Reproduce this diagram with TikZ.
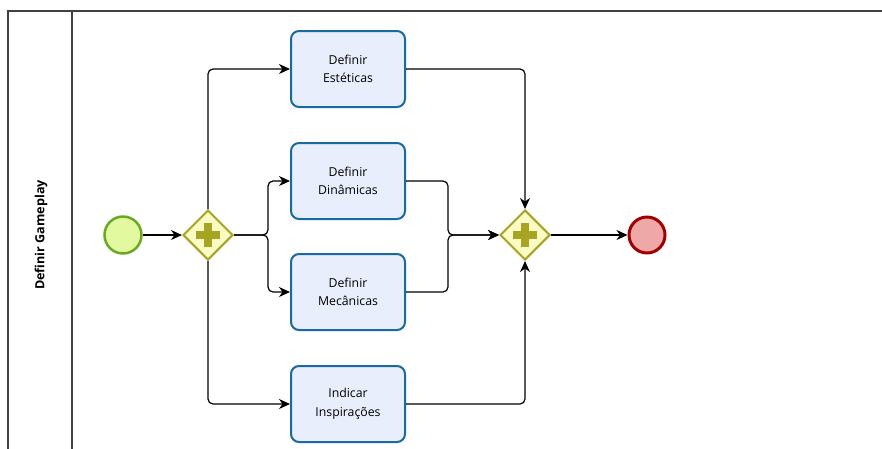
\documentclass[tikz,border=0pt]{standalone}
\usepackage{fontspec}
\setmainfont{Open Sans}
\usetikzlibrary{arrows.meta, positioning, shapes.geometric}

\definecolor{startfill}{HTML}{E2F9A0}
\definecolor{startdraw}{HTML}{6AAA22}
\definecolor{gatefill}{HTML}{FBFBC6}
\definecolor{gatedraw}{HTML}{A6A420}
\definecolor{taskfill}{HTML}{E8EEFC}
\definecolor{taskdraw}{HTML}{186BA2}
\definecolor{endfill}{HTML}{EFA8A8}
\definecolor{enddraw}{HTML}{A20000}

\begin{document}
\begin{tikzpicture}[x=1pt, y=-1pt]
				\tikzstyle{Task} = [rectangle, rounded corners=8pt, minimum width=114pt, minimum height=76pt, align=center, font=\fontsize{12.3}{18.5}\selectfont, line width=2pt, draw=taskdraw, fill=taskfill]
				\tikzstyle{Gate} = [diamond, minimum width=50pt, minimum height=50pt, inner sep=0pt, line width=2pt, draw=gatedraw, fill=gatefill,
					path picture={\draw[line width=7.5pt, gatedraw] ([xshift=-12pt]path picture bounding box.center) -- ([xshift=12pt]path picture bounding box.center);
						\draw[line width=7.5pt, gatedraw] ([yshift=-12pt]path picture bounding box.center) -- ([yshift=12pt]path picture bounding box.center);}]
				\tikzstyle{Start} = [circle, minimum size=37pt, inner sep=0pt, line width=2.5pt, draw=startdraw, fill=startfill]
				\tikzstyle{End} = [circle, minimum size=36pt, inner sep=0pt, line width=3pt, draw=enddraw, fill=endfill]
				\tikzstyle{arrow} = [line width=1.2pt, rounded corners=5pt, -{Stealth[length=11pt, width=10pt, inset=3.5pt]}]

				\useasboundingbox (0,0) rectangle (882,448);
				\clip (0,0) rectangle (882,448);

				% pool and lane
				\draw [line width=1.5pt, black!75] (8,470) -- (8,11) -- (900,11);
				\draw [line width=1.2pt, black!75] (72,11) -- (72,470);
				\node (lane) [rotate=90, font=\bfseries\fontsize{12.6}{15}\selectfont] at (41,235) {Definir Gameplay};

				\node (s1) [Start] at (123,235) {};
				\node (g1) [Gate] at (208,235) {};
				\node (t1) [Task] at (348,69) {Definir\\Estéticas};
				\node (t2) [Task] at (348,181) {Definir\\Dinâmicas};
				\node (t3) [Task] at (348,292) {Definir\\Mecânicas};
				\node (t4) [Task] at (348,404) {Indicar\\Inspirações};
				\node (g2) [Gate] at (525,235) {};
				\node (e1) [End] at (647,235) {};

				\draw [arrow] (s1) -- (g1);
				\draw [arrow] (g1.north) |- (t1.west);
				\draw [arrow] (g1.south) |- (t4.west);
				\draw [arrow] (g1.east) -- ++(34,0) |- (t2.west);
				\draw [arrow] (g1.east) -- ++(34,0) |- (t3.west);
				\draw [arrow] (t1.east) -| (g2.north);
				\draw [arrow] (t4.east) -| (g2.south);
				\draw [arrow] (t2.east) -- ++(42,0) |- (g2.west);
				\draw [arrow] (t3.east) -- ++(42,0) |- (g2.west);
				\draw [arrow] (g2) -- (e1);
			\end{tikzpicture}
\end{document}
